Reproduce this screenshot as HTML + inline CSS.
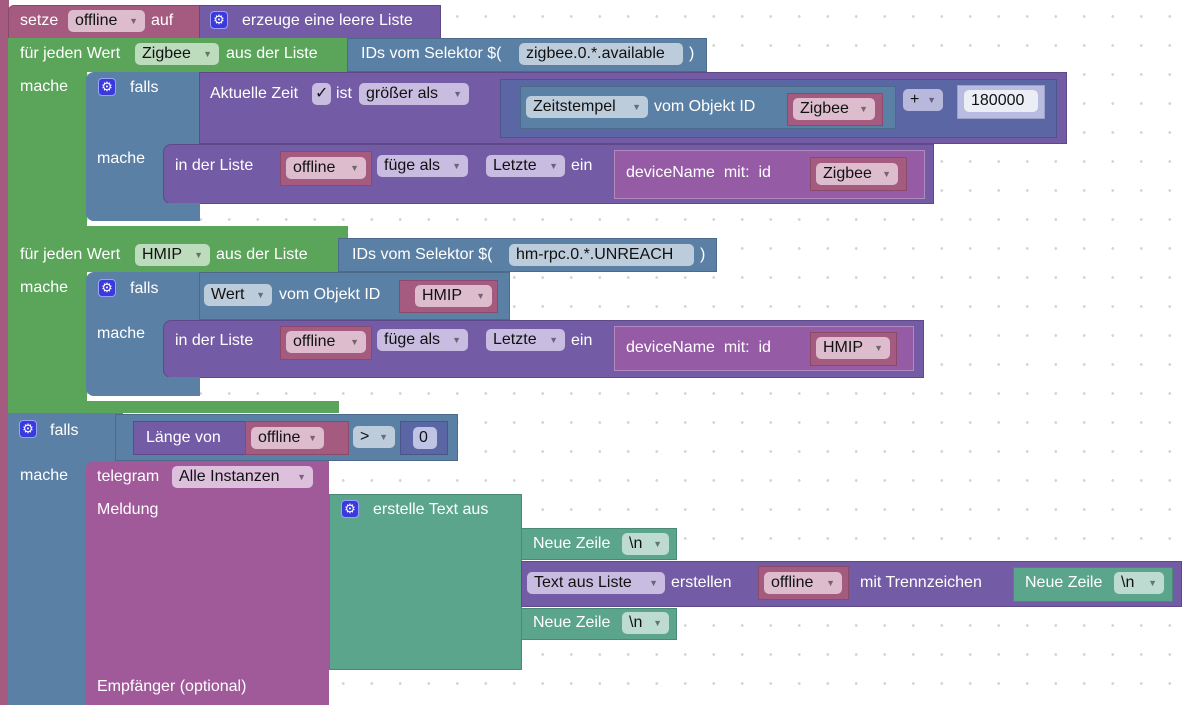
<!DOCTYPE html>
<html><head><meta charset="utf-8"><style>
html,body{margin:0;padding:0}
body{width:1187px;height:705px;overflow:hidden;position:relative;background:#fff;
background-image:radial-gradient(circle,#d4d4d4 1.2px,transparent 1.6px);background-size:28.5px 29px;background-position:-13px 2px;
font-family:"Liberation Sans",Arial,sans-serif;font-size:16px}
.b{position:absolute;box-sizing:border-box}
.t{position:absolute;color:#fff;white-space:nowrap;line-height:20px}
.f{position:absolute;box-sizing:border-box;height:22px;border-radius:5px;color:#111;line-height:22px;padding-left:7px;white-space:nowrap}
.f i{font-style:normal;font-size:9px;position:absolute;right:7px;top:0;opacity:.5}
.g{position:absolute;width:18px;height:18px;border-radius:4px;background:#3a3adc;border:1px solid #9aa0ff;box-sizing:border-box;color:#fff;font-size:13px;line-height:16px;text-align:center}
.ma{background:#a55b80;border:1px solid #8a4a6a}
.pu{background:#745ba5;border:1px solid #5e4a88}
.gr{background:#5ba55b}
.bl{background:#5b80a5;border:1px solid #4c6b8a}
.te{background:#a05a9a}
.tg{background:#5ba58c;border:1px solid #4a8a74}
.mb{background:#5b67a5;border:1px solid #4b558a}
.dn{background:#955ba5;border:1px solid #b38ac0}
.fm{background:#dcbccd}
.fp{background:#c8bde0}
.fg{background:#bddcbd}
.fb{background:#bdccdb}
.ft{background:#bddbd0}
</style></head><body>
<!-- outer maroon strip -->
<div class="b ma" style="left:0;top:0;width:9px;height:705px;border:none"></div>
<!-- setze -->
<div class="b ma" style="left:8px;top:5px;width:192px;height:34px;border-radius:6px 0 0 0"></div>
<div class="t" style="left:20px;top:11px">setze</div>
<div class="f fm" style="left:68px;top:10px;width:77px">offline<i>▼</i></div>
<div class="t" style="left:151px;top:11px">auf</div>
<div class="b pu" style="left:199px;top:5px;width:242px;height:34px"></div>
<div class="g" style="left:210px;top:11px">⚙</div>
<div class="t" style="left:242px;top:11px">erzeuge eine leere Liste</div>

<!-- foreach 1 -->
<div class="b gr" style="left:8px;top:38px;width:340px;height:34px"></div>
<div class="b gr" style="left:8px;top:70px;width:79px;height:168px"></div>
<div class="b gr" style="left:8px;top:226px;width:340px;height:12px"></div>
<div class="t" style="left:20px;top:44px">für jeden Wert</div>
<div class="f fg" style="left:135px;top:43px;width:84px">Zigbee<i>▼</i></div>
<div class="t" style="left:226px;top:44px">aus der Liste</div>
<div class="t" style="left:20px;top:77px">mache</div>
<div class="b bl" style="left:347px;top:38px;width:360px;height:34px"></div>
<div class="t" style="left:361px;top:44px">IDs vom Selektor $(</div>
<div class="f fb" style="left:519px;top:43px;width:164px">zigbee.0.*.available</div>
<div class="t" style="left:689px;top:44px">)</div>

<!-- if 1 -->
<div class="b bl" style="left:86px;top:72px;width:114px;height:149px;border-radius:8px 0 0 8px;border:none"></div>
<div class="g" style="left:98px;top:78px">⚙</div>
<div class="t" style="left:130px;top:78px">falls</div>
<div class="t" style="left:97px;top:149px">mache</div>
<div class="b pu" style="left:199px;top:72px;width:868px;height:72px"></div>
<div class="t" style="left:210px;top:84px">Aktuelle Zeit</div>
<div class="f fp" style="left:312px;top:83px;width:19px;padding-left:3px">✓</div>
<div class="t" style="left:336px;top:84px">ist</div>
<div class="f fp" style="left:359px;top:83px;width:110px">größer als<i>▼</i></div>
<div class="b mb" style="left:500px;top:79px;width:557px;height:59px"></div>
<div class="b bl" style="left:520px;top:86px;width:376px;height:43px"></div>
<div class="f fb" style="left:526px;top:96px;width:122px">Zeitstempel<i>▼</i></div>
<div class="t" style="left:654px;top:97px">vom Objekt ID</div>
<div class="b ma" style="left:787px;top:93px;width:96px;height:33px"></div>
<div class="f fm" style="left:793px;top:98px;width:82px">Zigbee<i>▼</i></div>
<div class="f fp" style="left:903px;top:89px;width:40px;background:#b8b8dc">+<i>▼</i></div>
<div class="b" style="left:957px;top:85px;width:88px;height:34px;background:#b8bce0;border:1px solid #9aa0c8"></div>
<div class="f" style="left:964px;top:90px;width:74px;background:#eceef6">180000</div>
<!-- in der Liste 1 -->
<div class="b pu" style="left:163px;top:144px;width:771px;height:60px;border-radius:8px 0 0 8px"></div>
<div class="t" style="left:175px;top:156px">in der Liste</div>
<div class="b ma" style="left:280px;top:151px;width:92px;height:35px"></div>
<div class="f fm" style="left:286px;top:157px;width:80px">offline<i>▼</i></div>
<div class="f fp" style="left:377px;top:155px;width:91px">füge als<i>▼</i></div>
<div class="f fp" style="left:486px;top:155px;width:79px">Letzte<i>▼</i></div>
<div class="t" style="left:571px;top:156px">ein</div>
<div class="b dn" style="left:614px;top:150px;width:311px;height:49px"></div>
<div class="t" style="left:626px;top:163px">deviceName&nbsp; mit:&nbsp; id</div>
<div class="b ma" style="left:810px;top:157px;width:97px;height:34px"></div>
<div class="f fm" style="left:816px;top:163px;width:82px">Zigbee<i>▼</i></div>
<div class="b bl" style="left:86px;top:203px;width:114px;height:18px;border:none;border-radius:0 0 0 8px"></div>

<!-- foreach 2 -->
<div class="b gr" style="left:8px;top:238px;width:331px;height:34px"></div>
<div class="b gr" style="left:8px;top:270px;width:79px;height:143px"></div>
<div class="b gr" style="left:8px;top:401px;width:331px;height:12px"></div>
<div class="t" style="left:20px;top:245px">für jeden Wert</div>
<div class="f fg" style="left:135px;top:244px;width:75px">HMIP<i>▼</i></div>
<div class="t" style="left:216px;top:245px">aus der Liste</div>
<div class="t" style="left:20px;top:278px">mache</div>
<div class="b bl" style="left:338px;top:238px;width:379px;height:34px"></div>
<div class="t" style="left:352px;top:245px">IDs vom Selektor $(</div>
<div class="f fb" style="left:509px;top:244px;width:185px">hm-rpc.0.*.UNREACH</div>
<div class="t" style="left:700px;top:245px">)</div>

<!-- if 2 -->
<div class="b bl" style="left:86px;top:272px;width:114px;height:124px;border-radius:8px 0 0 8px;border:none"></div>
<div class="g" style="left:98px;top:279px">⚙</div>
<div class="t" style="left:130px;top:279px">falls</div>
<div class="t" style="left:97px;top:324px">mache</div>
<div class="b bl" style="left:199px;top:272px;width:311px;height:48px"></div>
<div class="f fb" style="left:204px;top:284px;width:68px">Wert<i>▼</i></div>
<div class="t" style="left:279px;top:285px">vom Objekt ID</div>
<div class="b ma" style="left:399px;top:280px;width:99px;height:33px"></div>
<div class="f fm" style="left:415px;top:285px;width:77px">HMIP<i>▼</i></div>
<div class="b pu" style="left:163px;top:320px;width:761px;height:58px;border-radius:8px 0 0 8px"></div>
<div class="t" style="left:175px;top:331px">in der Liste</div>
<div class="b ma" style="left:280px;top:326px;width:92px;height:34px"></div>
<div class="f fm" style="left:286px;top:331px;width:80px">offline<i>▼</i></div>
<div class="f fp" style="left:377px;top:329px;width:91px">füge als<i>▼</i></div>
<div class="f fp" style="left:486px;top:329px;width:79px">Letzte<i>▼</i></div>
<div class="t" style="left:571px;top:331px">ein</div>
<div class="b dn" style="left:614px;top:326px;width:300px;height:45px"></div>
<div class="t" style="left:626px;top:338px">deviceName&nbsp; mit:&nbsp; id</div>
<div class="b ma" style="left:810px;top:332px;width:87px;height:34px"></div>
<div class="f fm" style="left:816px;top:337px;width:74px">HMIP<i>▼</i></div>
<div class="b bl" style="left:86px;top:377px;width:114px;height:19px;border:none;border-radius:0 0 0 8px"></div>

<!-- if 3 -->
<div class="b bl" style="left:8px;top:413px;width:115px;height:292px;border:none"></div>
<div class="b bl" style="left:115px;top:414px;width:343px;height:47px"></div>
<div class="g" style="left:19px;top:420px">⚙</div>
<div class="t" style="left:50px;top:421px">falls</div>
<div class="t" style="left:20px;top:466px">mache</div>
<div class="b pu" style="left:133px;top:421px;width:113px;height:34px"></div>
<div class="t" style="left:146px;top:428px">Länge von</div>
<div class="b ma" style="left:245px;top:421px;width:104px;height:34px"></div>
<div class="f fm" style="left:251px;top:427px;width:73px">offline<i>▼</i></div>
<div class="f fb" style="left:353px;top:426px;width:42px">&gt;<i>▼</i></div>
<div class="b mb" style="left:400px;top:421px;width:48px;height:34px"></div>
<div class="f" style="left:413px;top:427px;width:24px;background:#c0c4e4;padding-left:6px">0</div>

<!-- telegram -->
<div class="b te" style="left:86px;top:461px;width:243px;height:244px;border-radius:8px 0 0 0"></div>
<div class="t" style="left:97px;top:467px">telegram</div>
<div class="f" style="left:172px;top:466px;width:141px;background:#dcc0dc">Alle Instanzen<i>▼</i></div>
<div class="t" style="left:97px;top:500px">Meldung</div>
<div class="t" style="left:97px;top:677px">Empfänger (optional)</div>

<!-- text join -->
<div class="b tg" style="left:329px;top:494px;width:193px;height:176px"></div>
<div class="g" style="left:341px;top:500px">⚙</div>
<div class="t" style="left:373px;top:500px">erstelle Text aus</div>
<div class="b tg" style="left:521px;top:528px;width:156px;height:32px"></div>
<div class="t" style="left:533px;top:534px">Neue Zeile</div>
<div class="f ft" style="left:622px;top:533px;width:47px">\n<i>▼</i></div>
<div class="b pu" style="left:521px;top:561px;width:661px;height:46px"></div>
<div class="f fp" style="left:527px;top:572px;width:138px">Text aus Liste<i>▼</i></div>
<div class="t" style="left:671px;top:573px">erstellen</div>
<div class="b ma" style="left:758px;top:566px;width:91px;height:34px"></div>
<div class="f fm" style="left:764px;top:572px;width:78px">offline<i>▼</i></div>
<div class="t" style="left:860px;top:573px">mit Trennzeichen</div>
<div class="b tg" style="left:1013px;top:567px;width:160px;height:35px"></div>
<div class="t" style="left:1025px;top:573px">Neue Zeile</div>
<div class="f ft" style="left:1114px;top:572px;width:50px">\n<i>▼</i></div>
<div class="b tg" style="left:521px;top:608px;width:156px;height:32px"></div>
<div class="t" style="left:533px;top:613px">Neue Zeile</div>
<div class="f ft" style="left:622px;top:612px;width:47px">\n<i>▼</i></div>
</body></html>
